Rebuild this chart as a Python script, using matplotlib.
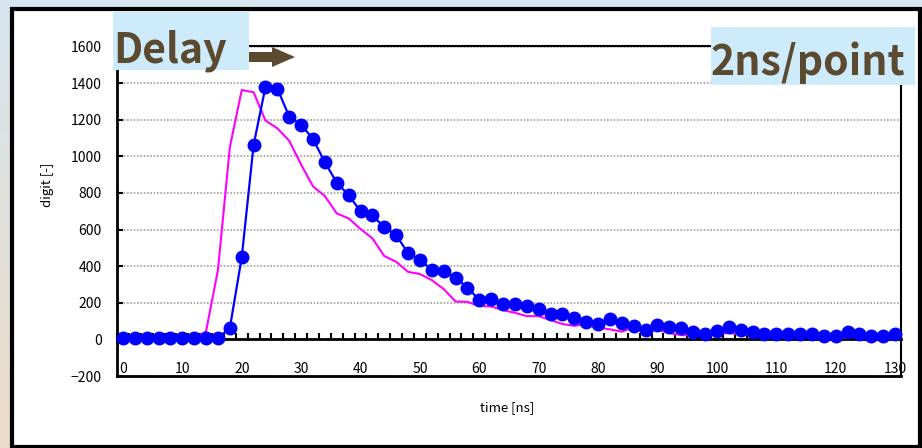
import numpy as np
import matplotlib
matplotlib.use('Agg')
import matplotlib.pyplot as plt
from matplotlib.patches import Rectangle, Polygon
from matplotlib.ticker import FixedLocator

plt.rcParams['font.family'] = ['Noto Sans CJK JP', 'DejaVu Sans']

# 2 ns per point
time = list(range(0, 131, 2))
blue = [8, 8, 8, 8, 8, 8, 8, 8, 8,
        62, 448, 1062, 1380, 1370, 1217, 1172, 1095, 967, 857,
        787, 701, 677, 613, 569, 472, 435, 380, 371, 338,
        283, 216, 219, 194, 195, 183, 164, 139, 139, 118,
        96, 84, 109, 87, 74, 54, 78, 65, 63, 41,
        32, 45, 65, 54, 41, 32, 32, 32, 32, 32,
        19, 19, 41, 32, 19, 19, 32]
magenta = [2, 2, 2, 2, 2, 2, 2,
           45, 380, 1050, 1362, 1350, 1195, 1153, 1085, 955, 836,
           783, 688, 661, 603, 552, 455, 424, 369, 357, 324,
           275, 207, 205, 182, 180, 160, 145, 127, 127, 105,
           84, 74, 85, 65, 55, 42, 68, 60, 52, 35,
           23, 22, 25, 30, 35, 28, 22, 20, 22, 20,
           18, 22, 15, 10, 12, 18, 15, 12, 18]
xlabels = list(range(0, 131, 10))
yticks = list(range(-200, 1601, 200))

W, H = 922, 448
def fx(x):
    return x / W
def fy(y):
    return 1 - y / H

fig = plt.figure(figsize=(9.22, 4.48), dpi=100)

# gradient backdrop
bg = fig.add_axes([0, 0, 1, 1], zorder=-10)
top = np.array([0.84, 0.90, 0.94])
bot = np.array([0.93, 0.86, 0.78])
g = np.linspace(0, 1, 256)[:, None, None]
bg.imshow(top + (bot - top) * g, aspect='auto', extent=[0, 1, 0, 1])
bg.axis('off')

frame = Rectangle((fx(12), fy(447)), fx(920) - fx(12), fy(9) - fy(447),
                  transform=fig.transFigure, facecolor='white',
                  edgecolor='black', lw=3, zorder=-5)
fig.add_artist(frame)

ax = fig.add_axes([fx(117), fy(376), fx(901) - fx(117), fy(46.5) - fy(376)])
ax.plot(time, magenta, color='#ff00ff', lw=1.5, zorder=3)
ax.plot(time, blue, color='#0000ff', lw=1.6, marker='o', ms=9,
        zorder=4, clip_on=False)

ax.set_xlim(-1, 131)
ax.set_ylim(-200, 1600)
ax.set_yticks(yticks)
ax.set_xticks(xlabels)
ax.xaxis.set_minor_locator(FixedLocator(list(range(-1, 132, 2))))
ax.spines['bottom'].set_position(('data', 0))
for s in ax.spines.values():
    s.set_linewidth(1.5)
ax.spines['left'].set_linewidth(2)
ax.spines['bottom'].set_linewidth(2)
ax.plot([0, 1], [0, 0], transform=ax.transAxes, color='k', lw=2, clip_on=False)

ax.tick_params(axis='x', which='major', length=0, pad=16, labelsize=10)
ax.tick_params(axis='x', which='minor', direction='in', length=4, width=1.5)
ax.tick_params(axis='y', direction='in', length=4, width=1.5, pad=11, labelsize=10)
ax.grid(axis='y', color='#a0a0a0', linestyle=(0, (1, 1)), lw=1.2)
ax.set_axisbelow(True)

fig.text(fx(47), fy(185), 'digit [-]', rotation=90, ha='center', va='center', fontsize=9.5)
fig.text(fx(507), fy(408), 'time [ns]', ha='center', va='center', fontsize=9.5)

# annotation boxes
brown = '#5b4a2f'
fig.add_artist(Rectangle((fx(113), fy(70)), fx(249) - fx(113), fy(12) - fy(70),
                         transform=fig.transFigure, facecolor='#cdebfb',
                         edgecolor='none', zorder=5))
fig.text(fx(113), fy(62), 'Delay', fontsize=29.5, fontweight='bold', color=brown,
         ha='left', va='baseline', zorder=6)
fig.add_artist(Rectangle((fx(711), fy(85)), fx(915) - fx(711), fy(27) - fy(85),
                         transform=fig.transFigure, facecolor='#cdebfb',
                         edgecolor='none', zorder=5))
fig.text(fx(711), fy(75), '2ns/point', fontsize=29.5, fontweight='bold', color=brown,
         ha='left', va='baseline', zorder=6)
arrow = [(249, 52), (272, 52), (272, 47), (295, 57), (272, 67), (272, 62), (249, 62)]
fig.add_artist(Polygon([(fx(x), fy(y)) for x, y in arrow], closed=True,
                       transform=fig.transFigure, facecolor=brown,
                       edgecolor='none', zorder=5))

fig.savefig('out.png', dpi=100)
